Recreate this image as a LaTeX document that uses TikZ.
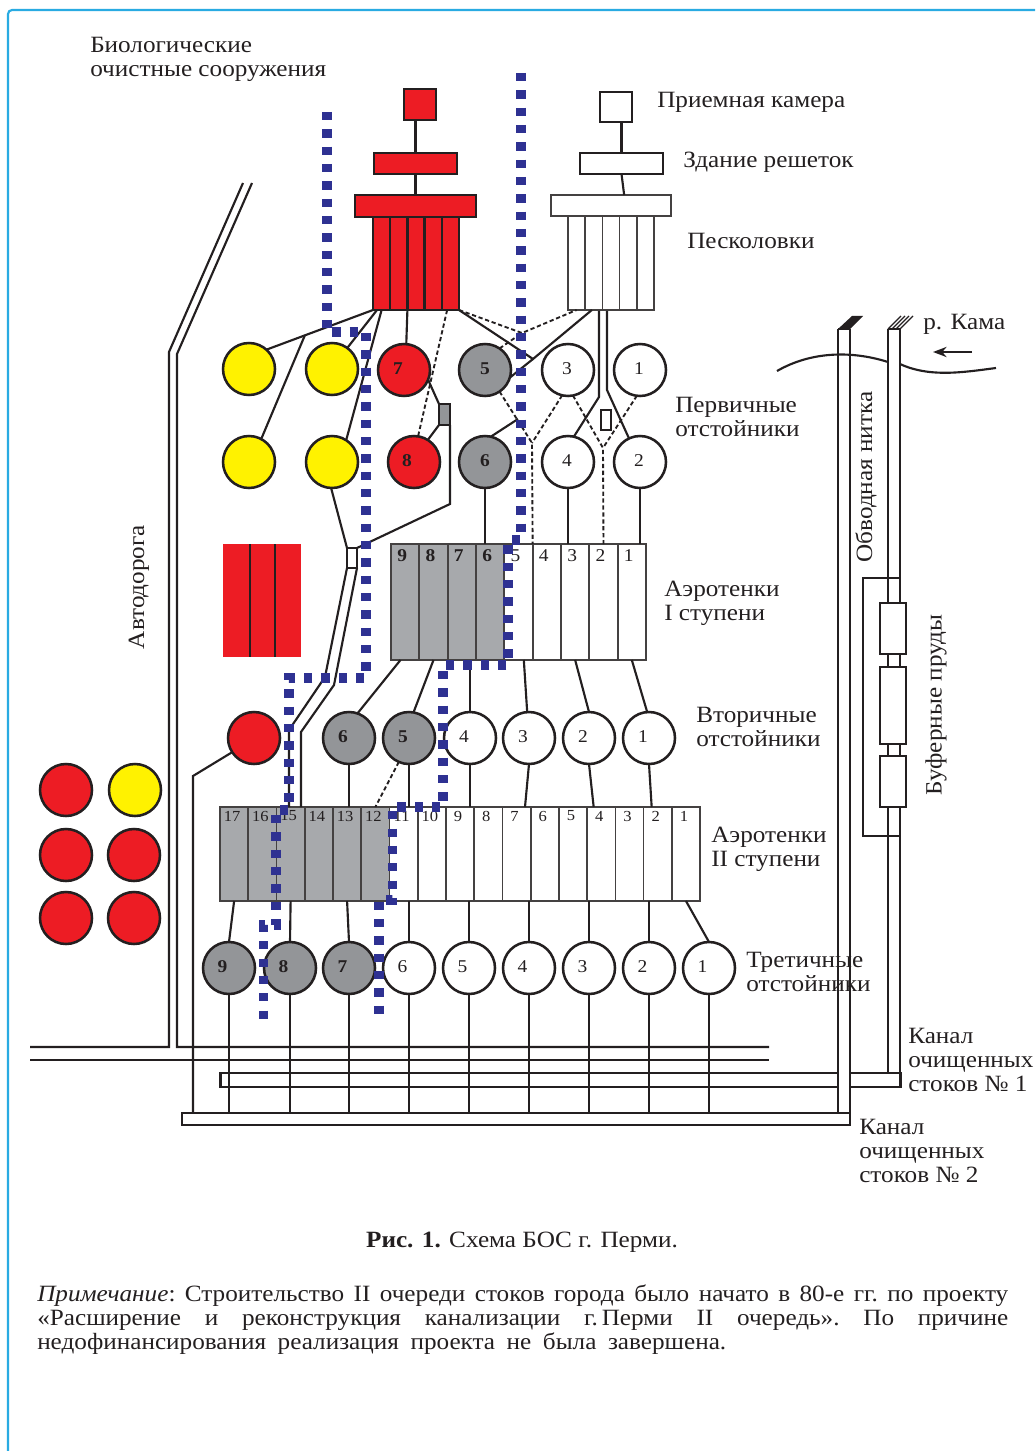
\documentclass[tikz,border=0pt]{standalone}
\usepackage{fontspec}
\setmainfont[FakeStretch=1.08]{Liberation Serif}
\usetikzlibrary{arrows.meta}
\definecolor{bosred}{HTML}{ED1C24}
\definecolor{bosyellow}{HTML}{FFF200}
\definecolor{bosgrey}{HTML}{939598}
\definecolor{tankgrey}{HTML}{A7A9AC}
\definecolor{bosblue}{HTML}{2E3192}
\definecolor{framecyan}{HTML}{29ABE2}
\definecolor{inkblack}{HTML}{231F20}
\begin{document}
\begin{tikzpicture}[
  x=0.75pt, y=-0.75pt,
  >=Stealth,
  size/.style 2 args={minimum width=#1*0.75pt, minimum height=#2*0.75pt},
  blk/.style={draw=inkblack, line width=1.7pt, inner sep=0pt, outer sep=0pt},
  cellbox/.style={draw=inkblack!85, line width=1.3pt, inner sep=0pt, outer sep=0pt},
  tank/.style={draw=inkblack, circle, line width=1.9pt, minimum size=39pt, inner sep=0pt, outer sep=0pt},
  pipe/.style={draw=inkblack, line width=1.6pt},
  dashpipe/.style={draw=inkblack, line width=1.4pt, dash pattern=on 3.2pt off 2pt},
  repair/.style={draw=bosblue, line width=6.8pt, dash pattern=on 6.2pt off 6.8pt},
  lab/.style={anchor=west, align=left, inner sep=0pt, text=inkblack, font=\fontsize{17.5}{18}\selectfont},
  vlab/.style={rotate=90, inner sep=0pt, text=inkblack, font=\fontsize{17.5}{18}\selectfont},
  numA/.style={inner sep=0pt, text=inkblack, font=\fontsize{13.5}{13.5}\selectfont},
  numB/.style={inner sep=0pt, text=inkblack, font=\fontsize{11.5}{11.5}\selectfont},
  numS/.style={inner sep=0pt, text=inkblack, font=\fontsize{13.5}{13.5}\selectfont\bfseries},
]
\useasboundingbox (0,0) rectangle (1035,1451);
\coordinate (frA) at (1035,10);
\coordinate (frB) at (8,10);
\coordinate (frC) at (8,1451);
\draw[framecyan, line width=1.6pt, rounded corners=3pt] (frA) -- (frB) -- (frC);

\node[blk, size={32}{31}, fill=bosred]  (rcam)  at (420,104.5) {};
\node[blk, size={83}{21}, fill=bosred]  (rgrid) at (415.5,163.5) {};
\node[blk, size={121}{22}, fill=bosred] (rsand) at (415.5,206) {};
\node[blk, size={32}{30}, fill=white]   (wcam)  at (616,107) {};
\node[blk, size={83}{21}, fill=white]   (wgrid) at (621.5,163.5) {};
\node[cellbox, size={120}{21}, fill=white] (wsand) at (611,205.5) {};
\foreach \n in {1,...,5}{
  \pgfmathsetmacro\cx{373+(\n-0.5)*17.2}
  \node[blk, size={17.2}{93}, fill=bosred] (rc\n) at (\cx,263.5) {};
  \pgfmathsetmacro\cy{568+(\n-0.5)*17.2}
  \node[cellbox, size={17.2}{94}, fill=white] (wc\n) at (\cy,263) {};
}
\draw[pipe] (rcam.south -| rgrid.north) -- (rgrid.north);
\draw[pipe] (rgrid.south) -- (rsand.north);
\draw[pipe] (wcam.south -| wgrid.north) -- (wgrid.north);
\draw[pipe] (wgrid.south) -- ([xshift=2pt]wsand.north -| wgrid.north);

\foreach \nm/\cx/\cy in {yA/249/369, yB/332/369, yC/249/462, yD/332/462, fA/135/790}
  \node[tank, fill=bosyellow] (\nm) at (\cx,\cy) {};
\foreach \nm/\cx/\cy in {fB/66/790, fC/66/855, fD/134/855, fE/66/918, fF/134/918, secR/254/738}
  \node[tank, fill=bosred] (\nm) at (\cx,\cy) {};

\foreach \n/\cx/\cy/\lx/\col/\st in {7/404/370/398/bosred/numS, 8/414/462/407/bosred/numS, 5/485/370/485/bosgrey/numS, 6/485/462/485/bosgrey/numS,
    3/568/370/567/white/numA, 4/568/462/567/white/numA, 1/640/370/639/white/numA, 2/640/462/639/white/numA}{
  \node[tank, fill=\col] (pr\n) at (\cx,\cy) {};
  \node[\st] (prl\n) at (\lx,\cy-1) {\n};
}
\foreach \n/\cx/\col/\st in {6/349/bosgrey/numS, 5/409/bosgrey/numS, 4/470/white/numA, 3/529/white/numA, 2/589/white/numA, 1/649/white/numA}{
  \node[tank, fill=\col] (sec\n) at (\cx,738) {};
  \node[\st] (secl\n) at (\cx-6,737) {\n};
}
\foreach \n/\cx/\col/\st in {9/229/bosgrey/numS, 8/290/bosgrey/numS, 7/349/bosgrey/numS, 6/409/white/numA, 5/469/white/numA, 4/529/white/numA, 3/589/white/numA, 2/649/white/numA, 1/709/white/numA}{
  \node[tank, fill=\col] (ter\n) at (\cx,968) {};
  \node[\st] (terl\n) at (\cx-6.5,967) {\n};
}

\foreach \n in {9,8,...,1}{
  \pgfmathsetmacro\cx{391+(9.5-\n)*28.33}
  \ifnum\n>5 \def\col{tankgrey}\def\st{numS}\else\def\col{white}\def\st{numA}\fi
  \node[cellbox, size={28.33}{116}, fill=\col] (aA\n) at (\cx,602) {};
  \node[\st] (aAl\n) at (\cx-3,556) {\n};
}
\foreach \n in {17,16,...,1}{
  \pgfmathsetmacro\cx{220+(17.5-\n)*28.24}
  \ifnum\n>11 \def\col{tankgrey}\else\def\col{white}\fi
  \node[cellbox, size={28.24}{94}, fill=\col] (aB\n) at (\cx,854) {};
  \node[numB] (aBl\n) at (\cx-2,816) {\n};
}

\node[draw=none, fill=bosred, size={78}{113}, inner sep=0pt] (rspare) at (262,600.5) {};
\coordinate (spA) at (250,544); \coordinate (spB) at (250,657);
\coordinate (spC) at (275,544); \coordinate (spD) at (275,657);
\draw[pipe] (spA) -- (spB);
\draw[pipe] (spC) -- (spD);

\coordinate (jnY) at (305,335);
\coordinate (jnA) at (533,359);
\coordinate (jnB) at (522,333);
\coordinate (jnC) at (532,443);
\coordinate (jnD) at (603,448);
\coordinate (jnE) at (518,419);
\coordinate (jnW) at (450,504);
\coordinate (wpA) at (599,311);
\coordinate (wpB) at (607,311);
\coordinate (wpC) at (599,397);
\coordinate (wpD) at (607,390);
\node[blk, size={11}{21}, fill=bosgrey] (vgrey) at (444.5,414.5) {};
\node[blk, size={10}{20}, fill=white]   (vwhite) at (606,420) {};
\node[blk, size={10}{20}, fill=white]   (vroad) at (352,558) {};

\draw[pipe] (rc1.south west) -- (yA.48);
\draw[pipe] (jnY) -- (yC.62);
\draw[pipe] ([xshift=3pt]rc1.south west) -- (yB.54);
\draw[pipe] (rc1.south) -- (yD.57);
\draw[pipe] (rc3.south west) -- (pr7.85);
\draw[dashpipe] ([xshift=4pt]rc5.south west) -- (pr8.81);
\draw[pipe] (pr7.338) -- (vgrey.north west);
\draw[pipe] (vgrey.south west) -- (pr8.58);
\draw[pipe] (vgrey.south east) -- (jnW) -- (vroad.north east);
\draw[pipe] (yD.268) -- (vroad.north west);

\draw[pipe] (rc5.south east) -- (jnA) -- ([xshift=5pt]wc2.south west);
\draw[pipe] (pr5.343) -- (jnA);
\draw[dashpipe] (rc5.south east) -- (jnB) -- (wc1.south);
\draw[dashpipe] (pr5.56) -- (jnB);
\draw[dashpipe] (pr5.304) -- (jnC) -- (aA5.north east);
\draw[dashpipe] (pr3.257) -- (jnC);
\draw[dashpipe] (pr3.281) -- (jnD) -- (aA2.north);
\draw[dashpipe] (pr1.263) -- (jnD);
\draw[pipe] (jnE) -- (pr6.77);
\draw[pipe] (wpA) -- (wpC) -- (pr4.77);
\draw[pipe] (wpB) -- (wpD) -- (pr2.115);

\foreach \n in {6,4,2}
  \draw[pipe] (pr\n.south) -- (pr\n.south |- aA1.north);

\draw[pipe] ([xshift=-3.5pt]aA9.south) -- (sec6.71);
\draw[pipe] (aA8.south) -- (sec5.80);
\draw[pipe] (sec4.north |- aA1.south) -- (sec4.north);
\draw[pipe] ([xshift=4pt]aA5.south) -- (sec3.94);
\draw[pipe] (aA3.south) -- (sec2.north);
\draw[pipe] (aA1.south) -- (sec1.94);

\foreach \n in {6,5,4}
  \draw[pipe] (sec\n.south) -- (sec\n.south |- aB1.north);
\draw[dashpipe] (sec5.247) -- (aB12.north);
\draw[pipe] (sec3.south) -- ([xshift=-3pt]sec3.south |- aB1.north);
\draw[pipe] (sec2.south) -- ([xshift=3.5pt]sec2.south |- aB1.north);
\draw[pipe] (sec1.south) -- ([xshift=2pt]sec1.south |- aB1.north);

\draw[pipe] (aB17.south) -- (ter9.north);
\draw[pipe] (aB15.south) -- (ter8.north);
\draw[pipe] (aB13.south) -- (ter7.north);
\foreach \n in {6,5,4,3,2}
  \draw[pipe] (ter\n.north |- aB1.south) -- (ter\n.north);
\draw[pipe] (aB1.south) -- (ter1.north);

\coordinate (rdA) at (325,677); \coordinate (rdB) at (289,730); \coordinate (rdC) at (289,807);
\coordinate (rdD) at (334,685); \coordinate (rdE) at (301,732); \coordinate (rdF) at (301,807);
\draw[pipe] (vroad.south west) -- (rdA) -- (rdB) -- (rdC);
\draw[pipe] (vroad.south east) -- (rdD) -- (rdE) -- (rdF);

\coordinate (hwA) at (243,183); \coordinate (hwB) at (169,352); \coordinate (hwC) at (169,1047); \coordinate (hwD) at (30,1047);
\coordinate (hwE) at (252,183); \coordinate (hwF) at (177,354); \coordinate (hwG) at (177,1047); \coordinate (hwH) at (769,1047);
\coordinate (hwI) at (30,1060); \coordinate (hwJ) at (769,1060);
\draw[pipe] (hwA) -- (hwB) -- (hwC) -- (hwD);
\draw[pipe] (hwE) -- (hwF) -- (hwG) -- (hwH);
\draw[pipe] (hwI) -- (hwJ);

\node[blk, size={680}{14}, fill=white] (can1) at (560.5,1080) {};
\node[blk, size={668}{12}, fill=white] (can2) at (516,1119) {};
\coordinate (stA) at (193,776);
\coordinate (stB) at (193,1113);
\draw[pipe] (secR.213) -- (stA) -- (stB);
\foreach \n in {9,8,...,1}
  \draw[pipe] (ter\n.south) -- (ter\n.south |- can2.north);

\node[fill=white, size={10}{17}, inner sep=0pt] (gapA) at (844,1080) {};
\coordinate (byA) at (838,329); \coordinate (byB) at (850,329);
\coordinate (byC) at (838,1113); \coordinate (byD) at (850,1113);
\draw[pipe] (byA) -- (byC);
\draw[pipe] (byB) -- (byD);
\draw[pipe] (byA) -- (byB);
\fill[inkblack] (byA) -- (852,316) -- (863,316) -- (byB) -- cycle;

\coordinate (mnA) at (888,329); \coordinate (mnB) at (900,329);
\coordinate (mnC) at (888,1073); \coordinate (mnD) at (900,1073);
\draw[pipe] (mnA) -- (mnC);
\draw[pipe] (mnB) -- (mnD);
\draw[pipe] (mnA) -- (mnB);
\foreach \sx/\ex in {888/901, 892/905, 896/909, 900/913}
  \draw[inkblack, line width=0.9pt] (\sx,329) -- (\ex,316);

\coordinate (brA) at (900,578); \coordinate (brB) at (863,578);
\coordinate (brC) at (863,836); \coordinate (brD) at (900,836);
\draw[pipe] (brA) -- (brB) -- (brC) -- (brD);
\node[blk, size={26}{51}, fill=white] (pondA) at (893,628.5) {};
\node[blk, size={26}{77}, fill=white] (pondB) at (893,705.5) {};
\node[blk, size={26}{51}, fill=white] (pondC) at (893,781.5) {};

\coordinate (rvA) at (777,371); \coordinate (rvB) at (888,362);
\coordinate (rvC) at (900,364); \coordinate (rvD) at (996,368);
\draw[pipe] (rvA) .. controls (810,352) and (850,350) .. (rvB);
\draw[pipe] (rvC) .. controls (930,378) and (965,372) .. (rvD);
\coordinate (flA) at (972,352); \coordinate (flB) at (933,352);
\draw[pipe, ->] (flA) -- (flB);

\coordinate (bpA) at (327,112); \coordinate (bpB) at (327,332); \coordinate (bpC) at (366,332);
\coordinate (bpD) at (366,678); \coordinate (bpE) at (289,678); \coordinate (bpF) at (289,810);
\coordinate (bpG) at (276,810); \coordinate (bpH) at (276,925); \coordinate (bpI) at (263.5,925);
\coordinate (bpJ) at (263.5,1020);
\draw[repair] (bpA) -- (bpB) -- (bpC) -- (bpD) -- (bpE) -- (bpF) -- (bpG) -- (bpH) -- (bpI) -- (bpJ);
\coordinate (bqA) at (521,73); \coordinate (bqB) at (521,540); \coordinate (bqC) at (508,540);
\coordinate (bqD) at (508,665); \coordinate (bqE) at (443,665); \coordinate (bqF) at (443,807);
\coordinate (bqG) at (392.5,807); \coordinate (bqH) at (392.5,900); \coordinate (bqI) at (379,900);
\coordinate (bqJ) at (379,1021);
\draw[repair] (bqA) -- (bqB) -- (bqC) -- (bqD) -- (bqE) -- (bqF) -- (bqG) -- (bqH) -- (bqI) -- (bqJ);

\node[lab] (tbio)  at (90,59)   {Биологические\\очистные сооружения};
\node[lab] (trec)  at (657,102) {Приемная камера};
\node[lab] (tgrid) at (683,162) {Здание решеток};
\node[lab] (tsand) at (687,241) {Песколовки};
\node[lab] (tkama) at (923,324) {р. Кама};
\node[lab] (tprim) at (675,416.5) {Первичные\\отстойники};
\node[lab] (taer1) at (664,603) {Аэротенки\\I ступени};
\node[lab] (tsec)  at (696,727) {Вторичные\\отстойники};
\node[lab] (taer2) at (711,849) {Аэротенки\\II ступени};
\node[lab] (tter)  at (746,972) {Третичные\\отстойники};
\node[lab] (tcan1) at (908,1059.5) {Канал\\очищенных\\стоков № 1};
\node[lab] (tcan2) at (859,1150.5) {Канал\\очищенных\\стоков № 2};
\node[vlab] (troad) at (139,587) {Автодорога};
\node[vlab] (tbyp)  at (866,477) {Обводная нитка};
\node[vlab] (tbuf)  at (936,705) {Буферные пруды};
\node[inner sep=0pt, text=inkblack, font=\fontsize{17.5}{18}\selectfont] (tcap) at (522,1242) {\textbf{Рис. 1.} Схема БОС г. Перми.};
\node[inner sep=0pt, anchor=north west, text width=728.25pt, align=justify, text=inkblack, font=\fontsize{17.5}{18}\selectfont\frenchspacing] (tnote) at (37,1285)
  {\textit{Примечание}: Строительство II очереди стоков города было начато в 80-е гг. по проекту\linebreak
   «Расширение и реконструкция канализации г.\,Перми II очередь». По причине\linebreak
   \makebox[516.75pt][s]{недофинансирования реализация проекта не была завершена.}};
\end{tikzpicture}
\end{document}
